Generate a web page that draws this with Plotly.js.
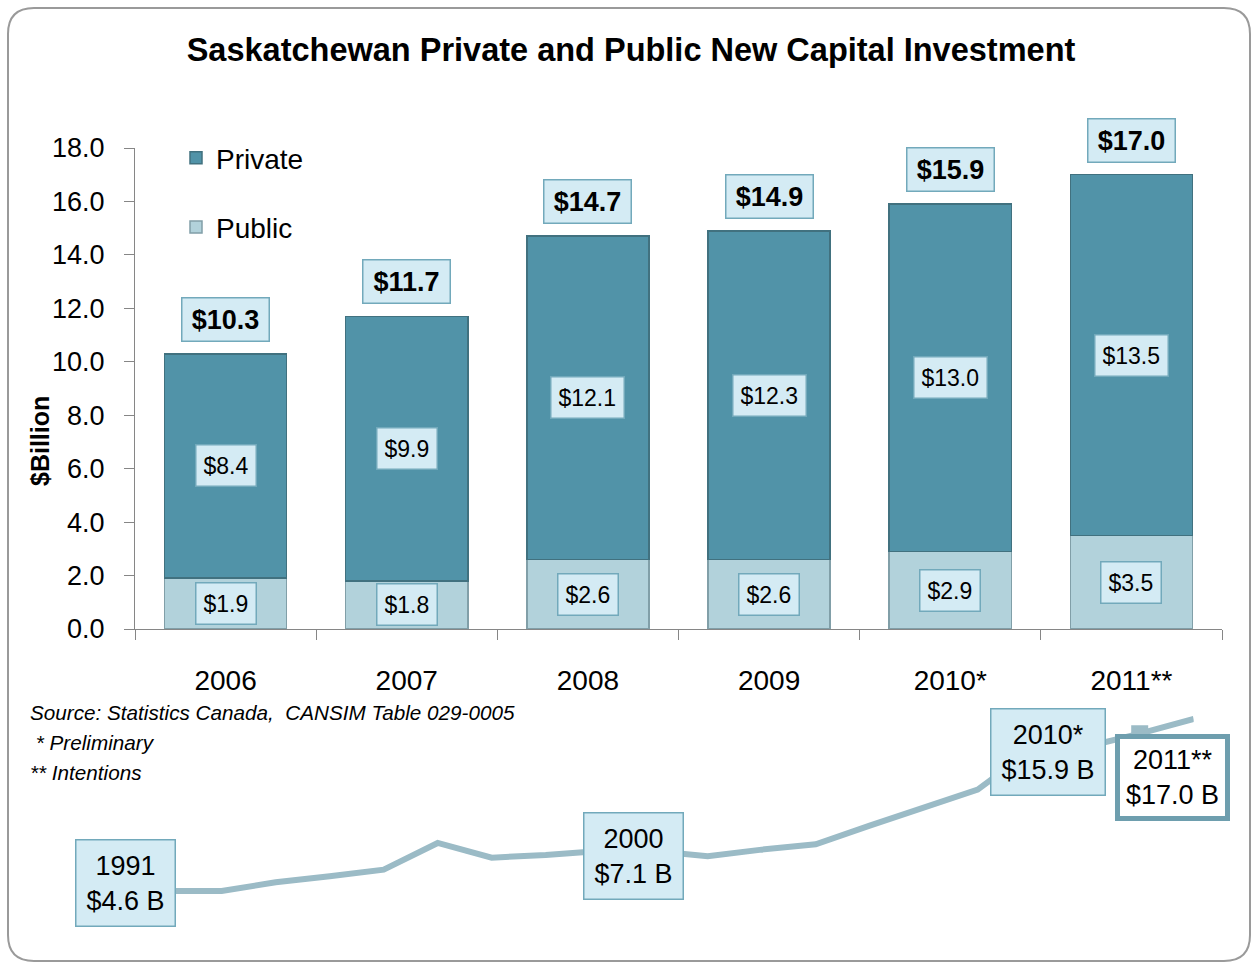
<!DOCTYPE html>
<html><head><meta charset="utf-8">
<script src="https://cdn.plot.ly/plotly-3.0.1.min.js"></script>
<style>html,body{margin:0;padding:0;background:#fff}#chart{width:1253px;height:962px}</style>
</head><body><div id="chart"></div>
<script>
// ---- data ----
const categories = ['2006', '2007', '2008', '2009', '2010*', '2011**'];
const publicValues = [1.9, 1.8, 2.6, 2.6, 2.9, 3.5];
const privateValues = [8.4, 9.9, 12.1, 12.3, 13.0, 13.5];
const totalValues = [10.3, 11.7, 14.7, 14.9, 15.9, 17.0];
const yTickValues = [0, 2, 4, 6, 8, 10, 12, 14, 16, 18];

const trendYears = [1991, 1992, 1993, 1994, 1995, 1996, 1997, 1998, 1999, 2000,
                    2001, 2002, 2003, 2004, 2005, 2006, 2007, 2008, 2009, 2010, 2011];
const trendValues = [4.6, 4.1, 4.1, 4.75, 5.2, 5.7, 7.7, 6.6, 6.8, 7.1,
                     7.1, 6.7, 7.2, 7.6, 9.0, 10.3, 11.7, 14.7, 14.9, 15.9, 17.0];
const trendLabelYears = [1991, 2000, 2010, 2011];
const trendLabelNames = ['1991', '2000', '2010*', '2011**'];

const titleText = 'Saskatchewan Private and Public New Capital Investment';
const sourceLines = ['Source: Statistics Canada,  CANSIM Table 029-0005', ' * Preliminary', '** Intentions'];

// ---- layout helpers (pixel -> paper) ----
const W = 1253, H = 962;
const px = x => x / W;
const py = y => 1 - y / H;
const FONT = '"Liberation Sans", Arial, sans-serif';

const privateColor = '#5193a8';
const publicColor = '#b2d2db';
const labelBg = '#d4ebf4';
const labelBorder = '#72a9bb';
const lineColor = '#9bbbc6';

const traces = [
  {
    type: 'bar', name: 'Public', x: categories, y: publicValues,
    marker: {color: publicColor, line: {color: '#819fa8', width: 1.5}},
    legendgroup: 'pub', legendrank: 2, hoverinfo: 'skip'
  },
  {
    type: 'bar', name: 'Private', x: categories, y: privateValues,
    marker: {color: privateColor, line: {color: '#41717f', width: 1.5}},
    legendgroup: 'priv', legendrank: 1, hoverinfo: 'skip'
  },
  {
    type: 'scatter', mode: 'lines', x: trendYears, y: trendValues,
    xaxis: 'x2', yaxis: 'y2', showlegend: false, hoverinfo: 'skip',
    line: {color: lineColor, width: 6}
  },
  {
    type: 'scatter', mode: 'markers',
    x: [trendYears[trendYears.indexOf(2010)]], y: [trendValues[trendYears.indexOf(2010)]],
    xaxis: 'x2', yaxis: 'y2', showlegend: false, hoverinfo: 'skip',
    marker: {symbol: 'square', size: 17, color: lineColor}
  }
];

const annotations = [];
// value labels on bars (x given as category index)
categories.forEach((c, i) => {
  annotations.push({
    x: i, y: totalValues[i], xref: 'x', yref: 'y', xanchor: 'center', yanchor: 'bottom', yshift: 12,
    showarrow: false, text: '<b>$' + totalValues[i].toFixed(1) + '</b>',
    font: {family: FONT, size: 27, color: '#000'},
    bgcolor: labelBg, bordercolor: labelBorder, borderwidth: 1.5, borderpad: 4,
    width: 78, height: 34
  });
  annotations.push({
    x: i, y: publicValues[i] + privateValues[i] / 2, xref: 'x', yref: 'y',
    xanchor: 'center', yanchor: 'middle',
    showarrow: false, text: '$' + privateValues[i].toFixed(1),
    font: {family: FONT, size: 23, color: '#000'},
    bgcolor: labelBg, bordercolor: labelBorder, borderwidth: 1.5, borderpad: 7, height: 26
  });
  annotations.push({
    x: i, y: publicValues[i] / 2, xref: 'x', yref: 'y',
    xanchor: 'center', yanchor: 'middle',
    showarrow: false, text: '$' + publicValues[i].toFixed(1),
    font: {family: FONT, size: 23, color: '#000'},
    bgcolor: labelBg, bordercolor: labelBorder, borderwidth: 1.5, borderpad: 7, height: 26
  });
});

// trend labels
const trendShifts = [[12, 1], [34, -5.5], [-92, -18], [-21, -58.5]];
trendLabelYears.forEach((yr, k) => {
  const idx = trendYears.indexOf(yr);
  const last = k === trendLabelYears.length - 1;
  annotations.push({
    x: yr, y: trendValues[idx], xref: 'x2', yref: 'y2', xanchor: 'center', yanchor: 'middle',
    xshift: trendShifts[k][0], yshift: trendShifts[k][1],
    showarrow: false,
    text: trendLabelNames[k] + '<br>$' + trendValues[idx].toFixed(1) + ' B',
    font: {family: FONT, size: 27, color: '#000'},
    bgcolor: last ? '#ffffff' : labelBg,
    bordercolor: last ? '#6e9eae' : labelBorder,
    borderwidth: last ? 5 : 1.5, borderpad: last ? 6 : 10
  });
});

// y-axis title
annotations.push({
  x: px(40), y: py(441), xref: 'paper', yref: 'paper', xanchor: 'center', yanchor: 'middle',
  showarrow: false, textangle: -90, text: '<b>$Billion</b>',
  font: {family: FONT, size: 25, color: '#000'}
});
// source notes
const sourceY = [712, 742, 772];
sourceLines.forEach((t, k) => {
  annotations.push({
    x: px(28), y: py(sourceY[k]), xref: 'paper', yref: 'paper', xanchor: 'left', yanchor: 'middle',
    showarrow: false, text: '<i>' + t.replace(/^ /, '&nbsp;') + '</i>',
    font: {family: FONT, size: 20.7, color: '#000'}
  });
});

// rounded frame
function roundedRect(x0, y0, x1, y1, r) {
  const p = (x, y) => px(x) + ',' + py(y);
  return 'M' + p(x0 + r, y0) + ' L' + p(x1 - r, y0) + ' Q' + p(x1, y0) + ' ' + p(x1, y0 + r) +
    ' L' + p(x1, y1 - r) + ' Q' + p(x1, y1) + ' ' + p(x1 - r, y1) +
    ' L' + p(x0 + r, y1) + ' Q' + p(x0, y1) + ' ' + p(x0, y1 - r) +
    ' L' + p(x0, y0 + r) + ' Q' + p(x0, y0) + ' ' + p(x0 + r, y0) + ' Z';
}

const layout = {
  width: W, height: H,
  margin: {l: 0, r: 0, t: 0, b: 0, pad: 0},
  paper_bgcolor: '#ffffff', plot_bgcolor: 'rgba(0,0,0,0)',
  barmode: 'stack', bargap: 0.326,
  font: {family: FONT, color: '#000'},
  title: {
    text: '<b>' + titleText + '</b>', x: px(631), xanchor: 'center', xref: 'paper',
    y: py(50), yanchor: 'middle', yref: 'paper',
    font: {family: FONT, size: 32.5, color: '#000'}
  },
  showlegend: true,
  legend: {
    x: px(176), y: py(133), xanchor: 'left', yanchor: 'top',
    traceorder: 'grouped', tracegroupgap: 30,
    font: {family: FONT, size: 28, color: '#000'}, bgcolor: 'rgba(0,0,0,0)'
  },
  xaxis: {
    domain: [px(135), px(1222)], anchor: 'y', type: 'category', range: [-0.5, 5.5], autorange: false,
    showline: true, linecolor: '#868686', linewidth: 1,
    ticks: 'outside', tickson: 'boundaries', ticklen: 10, tickcolor: '#868686',
    tickfont: {family: FONT, size: 28, color: '#000'}, tickangle: 0,
    ticklabelstandoff: 26, showgrid: false, zeroline: false, fixedrange: true
  },
  yaxis: {
    domain: [py(629), py(148)], anchor: 'x', range: [0, 18], autorange: false,
    tickvals: yTickValues, tickformat: '.1f',
    showline: true, linecolor: '#868686', linewidth: 1,
    ticks: 'outside', ticklen: 10, tickcolor: '#868686',
    tickfont: {family: FONT, size: 27, color: '#000'},
    ticklabelstandoff: 14, showgrid: false, zeroline: false, fixedrange: true
  },
  xaxis2: {
    domain: [px(113.7), px(1193.7)], anchor: 'y2', range: [1991, 2011], autorange: false,
    visible: false, fixedrange: true
  },
  yaxis2: {
    domain: [py(900), py(700)], anchor: 'x2', range: [3.422, 18.425], autorange: false,
    visible: false, fixedrange: true
  },
  annotations: annotations,
  shapes: [{
    type: 'path', xref: 'paper', yref: 'paper', layer: 'below',
    path: roundedRect(8, 8, 1250, 961, 26),
    line: {color: '#9a9a9a', width: 2}, fillcolor: 'rgba(0,0,0,0)'
  }]
};

Plotly.newPlot('chart', traces, layout, {displayModeBar: false, staticPlot: true});
</script>
</body></html>
